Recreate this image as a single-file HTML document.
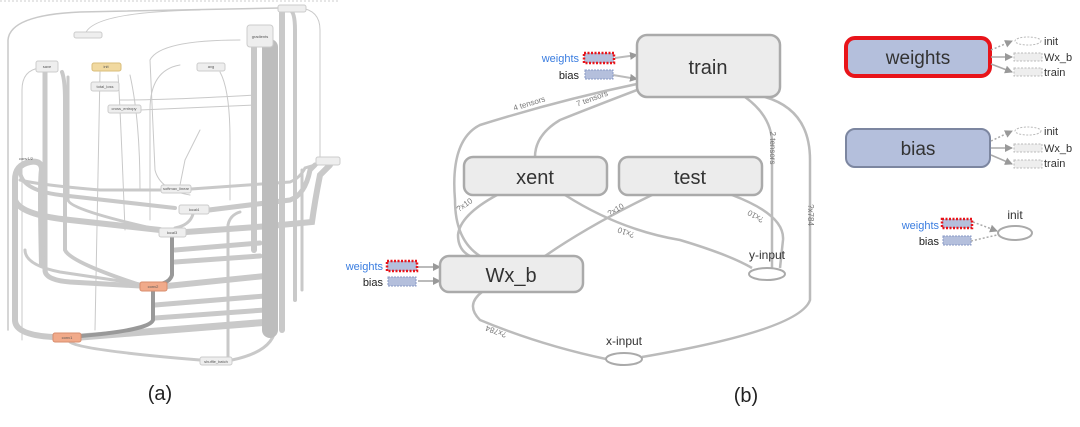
<!DOCTYPE html>
<html><head><meta charset="utf-8"><style>
html,body{margin:0;padding:0;background:#fff;}
svg{display:block;font-family:"Liberation Sans",sans-serif;}
</style></head><body>
<svg width="1080" height="427" viewBox="0 0 1080 427" xmlns="http://www.w3.org/2000/svg">
<defs>
<marker id="ar" markerWidth="8" markerHeight="8" refX="7" refY="4" orient="auto" markerUnits="userSpaceOnUse"><path d="M0,0 L8,4 L0,8 z" fill="#999"/></marker>
</defs>
<!-- ===== Panel (a) ===== -->
<line x1="0" y1="1" x2="340" y2="1" stroke="#ccc" stroke-dasharray="2,2"/>
<g fill="none" stroke="#c9c9c9" stroke-linecap="round">
 <!-- thin outer loops -->
 <path d="M8,330 L8,40 Q10,15 80,12 L280,8" stroke-width="1.5"/>
 <path d="M85,35 Q90,12 200,10" stroke-width="1"/>
 <path d="M22,340 L22,90 Q22,70 40,68" stroke-width="1"/>
 <path d="M320,160 L320,30 Q320,10 300,8" stroke-width="1"/>
 <path d="M130,75 Q140,120 140,190" stroke-width="1"/>
 <path d="M180,65 Q150,70 150,110 L150,220" stroke-width="1"/>
 <path d="M220,72 Q230,90 230,140 L230,200" stroke-width="1"/>
 <path d="M118,75 Q120,100 125,230" stroke-width="1"/>
 <path d="M100,72 Q98,200 95,330" stroke-width="1"/>
 <path d="M240,40 Q160,40 150,60 L155,170 Q160,190 190,195" stroke-width="1"/>
 <path d="M120,100 Q170,100 255,95" stroke-width="1"/>
 <path d="M140,110 L255,105" stroke-width="1"/>
 <path d="M200,130 Q190,150 185,160 L180,185" stroke-width="1"/>
 <!-- thick bands -->
 <path d="M45,72 L45,270 Q45,280 70,282 L140,286" stroke-width="5"/>
 <path d="M62,72 Q65,80 65,100 L65,250 Q70,262 140,285" stroke-width="4"/>
 <path d="M42,265 Q40,180 42,170 Q42,160 30,162 Q15,165 15,180 L15,320 Q15,335 53,337" stroke-width="6"/>
 <path d="M20,170 Q20,190 60,195 L175,208" stroke-width="4"/>
 <path d="M15,200 Q20,215 70,220 L160,230" stroke-width="6"/>
 <path d="M20,180 Q40,185 100,190 L160,190" stroke-width="3"/>
 <path d="M68,77 L68,200 Q70,210 160,230" stroke-width="3"/>
 <path d="M25,250 Q25,265 60,272 L140,284" stroke-width="3"/>
 <path d="M186,232 L270,226 L312,222 Q315,200 320,175 L330,165" stroke-width="6"/>
 <path d="M209,210 L290,200 Q305,195 310,170 L315,165" stroke-width="5"/>
 <path d="M191,189 L290,182 Q300,178 305,168 L325,162" stroke-width="3"/>
 <path d="M175,250 L260,243" stroke-width="5"/>
 <path d="M175,262 L260,256" stroke-width="5"/>
 <path d="M167,286 L265,276" stroke-width="6"/>
 <path d="M155,305 L265,296" stroke-width="5"/>
 <path d="M155,318 L265,310" stroke-width="5"/>
 <path d="M81,337 L270,322" stroke-width="7"/>
 <path d="M70,342 Q80,350 200,360" stroke-width="3"/>
 <path d="M232,360 Q280,350 275,320" stroke-width="3"/>
 <path d="M228,360 L228,225 Q230,215 240,212" stroke-width="3"/>
 <!-- gradients trunk -->
 <path d="M270,47 L270,330" stroke-width="16" stroke="#bdbdbd"/>
 <path d="M254,47 L254,250" stroke-width="6"/>
 <path d="M282,10 L282,330" stroke-width="6"/>
 <path d="M290,10 Q295,12 295,30 L295,300" stroke-width="4"/>
 <path d="M302,170 L302,290" stroke-width="3"/>
 <!-- vertical spine -->
 <path d="M172,237 L172,275 Q170,282 160,284" stroke-width="4" stroke="#999"/>
 <path d="M153,290 L153,320 Q150,330 81,336" stroke-width="4" stroke="#999"/>
 <path d="M193,214 Q190,225 175,228" stroke-width="3"/>
</g>
<g font-size="4" fill="#555" text-anchor="middle">
 <rect x="247" y="25" width="26" height="22" rx="3" fill="#eee" stroke="#ccc"/>
 <text x="260" y="38">gradients</text>
 <rect x="278" y="5" width="28" height="7" rx="2" fill="#eee" stroke="#ccc"/>
 <rect x="74" y="32" width="28" height="6" rx="2" fill="#eee" stroke="#ccc"/>
 <rect x="36" y="61" width="22" height="11" rx="2" fill="#eee" stroke="#ccc"/><text x="47" y="68">save</text>
 <rect x="92" y="63" width="29" height="8" rx="2" fill="#f1d9a0" stroke="#d9bd7a"/><text x="106" y="68">init</text>
 <rect x="197" y="63" width="28" height="8" rx="2" fill="#eee" stroke="#ccc"/><text x="211" y="68">avg</text>
 <rect x="91" y="82" width="28" height="9" rx="2" fill="#eee" stroke="#ccc"/><text x="105" y="88">total_loss</text>
 <rect x="108" y="105" width="33" height="8" rx="2" fill="#eee" stroke="#ccc"/><text x="124" y="110">cross_entropy</text>
 <rect x="161" y="185" width="30" height="8" rx="2" fill="#eee" stroke="#ccc"/><text x="176" y="190">softmax_linear</text>
 <rect x="179" y="205" width="30" height="9" rx="2" fill="#eee" stroke="#ccc"/><text x="194" y="211">local4</text>
 <rect x="159" y="228" width="27" height="9" rx="2" fill="#eee" stroke="#ccc"/><text x="172" y="234">local3</text>
 <rect x="140" y="282" width="27" height="9" rx="2" fill="#f1aa8a" stroke="#d88d6e"/><text x="153" y="288">conv2</text>
 <rect x="53" y="333" width="28" height="9" rx="2" fill="#f1aa8a" stroke="#d88d6e"/><text x="67" y="339">conv1</text>
 <rect x="200" y="357" width="32" height="8" rx="2" fill="#eee" stroke="#ccc"/><text x="216" y="363">shuffle_batch</text>
 <rect x="316" y="157" width="24" height="8" rx="2" fill="#eee" stroke="#ccc"/>
 <text x="26" y="160">conv1/2</text>
</g>
<text x="160" y="400" font-size="20" text-anchor="middle" fill="#222">(a)</text>

<!-- ===== Panel (b) ===== -->
<g fill="none" stroke="#bbb" stroke-width="2.5">
 <path d="M637,84 Q560,100 480,125 Q450,140 455,200 Q455,240 480,256"/>
 <path d="M637,90 Q590,108 560,120 Q535,135 535,157"/>
 <path d="M745,97 Q770,115 772,140 L772,268"/>
 <path d="M765,97 Q810,110 810,160 L810,300 Q800,330 642,357"/>
 <path d="M497,195 Q460,215 458,235 Q458,250 470,256"/>
 <path d="M565,195 Q620,230 680,240 Q730,255 752,268"/>
 <path d="M652,195 Q590,225 545,256"/>
 <path d="M732,195 Q785,215 783,240 L780,268"/>
 <path d="M482,292 Q465,305 480,320 Q540,345 606,359"/>
</g>
<g stroke="#bbb" stroke-width="2" fill="none" marker-end="url(#ar)">
 <path d="M615,58 L637,55"/>
 <path d="M613,75 L637,79"/>
 <path d="M418,267 L440,267"/>
 <path d="M418,281 L440,281"/>
</g>
<g font-size="8" fill="#777" text-anchor="middle">
 <text transform="translate(530,106) rotate(-17)">4 tensors</text>
 <text transform="translate(593,101) rotate(-20)">7 tensors</text>
 <text transform="translate(770,148) rotate(90)">2 tensors</text>
 <text transform="translate(808,215) rotate(90)">?x784</text>
 <text transform="translate(466,207) rotate(-35)">?x10</text>
 <text transform="translate(617,212) rotate(-30)">?x10</text>
 <text transform="translate(627,230) rotate(200)">?x10</text>
 <text transform="translate(757,214) rotate(210)">?x10</text>
 <text transform="translate(497,329) rotate(200)">?x784</text>
</g>
<g fill="#ececec" stroke="#aaa" stroke-width="2.5">
 <rect x="637" y="35" width="143" height="62" rx="10"/>
 <rect x="464" y="157" width="143" height="38" rx="9"/>
 <rect x="619" y="157" width="143" height="38" rx="9"/>
 <rect x="440" y="256" width="143" height="36" rx="9"/>
</g>
<g font-size="20" fill="#333" text-anchor="middle">
 <text x="708" y="74">train</text>
 <text x="535" y="184">xent</text>
 <text x="690" y="184">test</text>
 <text x="511" y="282">Wx_b</text>
</g>
<ellipse cx="767" cy="274" rx="18" ry="6" fill="#fff" stroke="#aaa" stroke-width="2"/>
<ellipse cx="624" cy="359" rx="18" ry="6" fill="#fff" stroke="#aaa" stroke-width="2"/>
<g font-size="12" fill="#333" text-anchor="middle">
 <text x="767" y="259">y-input</text>
 <text x="624" y="345">x-input</text>
</g>
<!-- small weights/bias -->
<g font-size="11">
 <text x="579" y="62" fill="#3a7de0" text-anchor="end">weights</text>
 <text x="579" y="79" fill="#222" text-anchor="end">bias</text>
 <text x="383" y="270" fill="#3a7de0" text-anchor="end">weights</text>
 <text x="383" y="286" fill="#222" text-anchor="end">bias</text>
</g>
<g>
 <rect x="584" y="53" width="30" height="10" fill="#b4bfdc" stroke="#e8141a" stroke-width="2.5" stroke-dasharray="2,1.5"/>
 <rect x="585" y="70" width="28" height="9" fill="#b4bfdc" stroke="#8898c4" stroke-dasharray="2,1"/>
 <rect x="387" y="261" width="30" height="10" fill="#b4bfdc" stroke="#e8141a" stroke-width="2.5" stroke-dasharray="2,1.5"/>
 <rect x="388" y="277" width="28" height="9" fill="#b4bfdc" stroke="#8898c4" stroke-dasharray="2,1"/>
</g>
<text x="746" y="402" font-size="20" text-anchor="middle" fill="#222">(b)</text>

<!-- ===== right legend ===== -->
<rect x="846" y="38" width="144" height="38" rx="9" fill="#b4bfdc" stroke="#e8141a" stroke-width="4"/>
<text x="918" y="64" font-size="19" fill="#333" text-anchor="middle">weights</text>
<rect x="846" y="129" width="144" height="38" rx="9" fill="#b4bfdc" stroke="#7c86a0" stroke-width="2"/>
<text x="918" y="155" font-size="19" fill="#333" text-anchor="middle">bias</text>
<g stroke="#aaa" stroke-width="1.5" fill="none">
 <path d="M991,50 L1012,41" stroke-dasharray="2,2" marker-end="url(#ar)"/>
 <path d="M991,57 L1012,57" marker-end="url(#ar)"/>
 <path d="M991,64 L1012,72" marker-end="url(#ar)"/>
 <path d="M991,141 L1012,131" stroke-dasharray="2,2" marker-end="url(#ar)"/>
 <path d="M991,148 L1012,148" marker-end="url(#ar)"/>
 <path d="M991,155 L1012,164" marker-end="url(#ar)"/>
 <path d="M973,222 L997,231" stroke-dasharray="2,2" marker-end="url(#ar)"/>
 <path d="M971,241 L997,235" stroke-dasharray="2,2"/>
</g>
<g fill="#eee" stroke="#bbb" stroke-dasharray="2,1.5">
 <ellipse cx="1028" cy="41" rx="13" ry="4" fill="none"/>
 <rect x="1014" y="53" width="28" height="8"/>
 <rect x="1014" y="68" width="28" height="8"/>
 <ellipse cx="1028" cy="131" rx="13" ry="4" fill="none"/>
 <rect x="1014" y="144" width="28" height="8"/>
 <rect x="1014" y="160" width="28" height="8"/>
</g>
<g font-size="11" fill="#333">
 <text x="1044" y="45">init</text><text x="1044" y="61">Wx_b</text><text x="1044" y="76">train</text>
 <text x="1044" y="135">init</text><text x="1044" y="152">Wx_b</text><text x="1044" y="167">train</text>
</g>
<text x="939" y="229" font-size="11" fill="#3a7de0" text-anchor="end">weights</text>
<text x="939" y="245" font-size="11" fill="#222" text-anchor="end">bias</text>
<rect x="942" y="219" width="30" height="9" fill="#b4bfdc" stroke="#e8141a" stroke-width="2.5" stroke-dasharray="2,1.5"/>
<rect x="943" y="236" width="28" height="9" fill="#b4bfdc" stroke="#8898c4" stroke-dasharray="2,1"/>
<ellipse cx="1015" cy="233" rx="17" ry="7" fill="#fff" stroke="#aaa" stroke-width="2"/>
<text x="1015" y="219" font-size="12" fill="#333" text-anchor="middle">init</text>
</svg>
</body></html>
